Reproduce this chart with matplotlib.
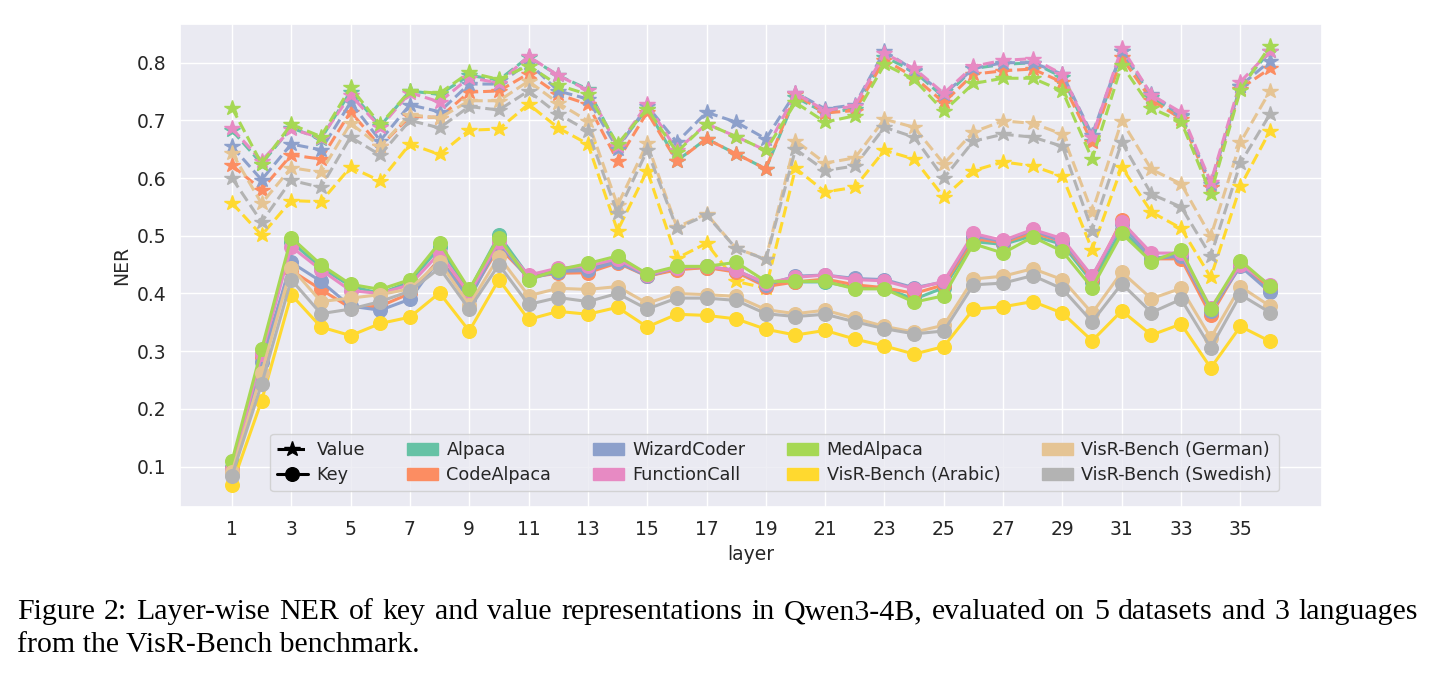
import numpy as np
import matplotlib
matplotlib.use("Agg")
import matplotlib.pyplot as plt
import seaborn as sns
from matplotlib.lines import Line2D
from matplotlib.patches import Patch

layers = list(range(1, 37))
datasets = ["Alpaca", "CodeAlpaca", "WizardCoder", "FunctionCall", "MedAlpaca",
            "VisR-Bench (Arabic)", "VisR-Bench (German)", "VisR-Bench (Swedish)"]
colors = ["#66c2a5", "#fc8d62", "#8da0cb", "#e78ac3", "#a6d854",
          "#ffd92f", "#e5c494", "#b3b3b3"]

alpaca_value = [0.683, 0.625, 0.687, 0.668, 0.750, 0.690, 0.751, 0.745, 0.778, 0.770, 0.810, 0.778,
                0.754, 0.655, 0.720, 0.630, 0.668, 0.642, 0.616, 0.740, 0.713, 0.720, 0.810, 0.785,
                0.740, 0.790, 0.797, 0.800, 0.775, 0.665, 0.820, 0.740, 0.708, 0.585, 0.760, 0.820]
codealpaca_value = [0.622, 0.580, 0.640, 0.633, 0.715, 0.655, 0.707, 0.705, 0.749, 0.751, 0.781, 0.745,
                    0.728, 0.630, 0.714, 0.629, 0.668, 0.642, 0.616, 0.745, 0.713, 0.717, 0.805, 0.775,
                    0.731, 0.780, 0.786, 0.789, 0.766, 0.662, 0.809, 0.735, 0.703, 0.585, 0.755, 0.790]
wizardcoder_value = [0.655, 0.597, 0.659, 0.649, 0.731, 0.665, 0.727, 0.715, 0.763, 0.763, 0.800, 0.751,
                     0.737, 0.651, 0.725, 0.662, 0.714, 0.697, 0.668, 0.748, 0.720, 0.727, 0.820, 0.787,
                     0.745, 0.790, 0.800, 0.800, 0.780, 0.675, 0.820, 0.745, 0.710, 0.590, 0.760, 0.803]
functioncall_value = [0.686, 0.630, 0.685, 0.670, 0.744, 0.688, 0.748, 0.732, 0.774, 0.765, 0.811, 0.778,
                      0.752, 0.655, 0.728, 0.648, 0.694, 0.672, 0.648, 0.747, 0.717, 0.725, 0.816, 0.790,
                      0.747, 0.794, 0.804, 0.807, 0.780, 0.671, 0.826, 0.744, 0.714, 0.593, 0.767, 0.820]
medalpaca_value = [0.722, 0.625, 0.693, 0.672, 0.757, 0.693, 0.751, 0.747, 0.783, 0.771, 0.795, 0.761,
                   0.745, 0.659, 0.720, 0.645, 0.694, 0.672, 0.648, 0.731, 0.697, 0.708, 0.797, 0.771,
                   0.716, 0.764, 0.773, 0.773, 0.751, 0.633, 0.796, 0.721, 0.698, 0.573, 0.753, 0.829]
arabic_value = [0.557, 0.501, 0.561, 0.559, 0.619, 0.595, 0.659, 0.641, 0.683, 0.685, 0.728, 0.687,
                0.659, 0.509, 0.613, 0.461, 0.487, 0.421, 0.409, 0.617, 0.576, 0.584, 0.648, 0.633,
                0.567, 0.613, 0.628, 0.621, 0.603, 0.476, 0.619, 0.541, 0.513, 0.428, 0.586, 0.682]
german_value = [0.644, 0.556, 0.618, 0.610, 0.695, 0.655, 0.710, 0.704, 0.734, 0.734, 0.768, 0.730,
                0.699, 0.553, 0.660, 0.515, 0.538, 0.478, 0.460, 0.665, 0.626, 0.635, 0.702, 0.688,
                0.625, 0.680, 0.699, 0.695, 0.676, 0.541, 0.699, 0.615, 0.590, 0.499, 0.662, 0.751]
swedish_value = [0.600, 0.524, 0.596, 0.584, 0.671, 0.640, 0.700, 0.687, 0.724, 0.718, 0.751, 0.711,
                 0.682, 0.539, 0.648, 0.513, 0.536, 0.478, 0.459, 0.650, 0.613, 0.621, 0.688, 0.671,
                 0.600, 0.664, 0.676, 0.671, 0.655, 0.509, 0.662, 0.572, 0.550, 0.465, 0.626, 0.711]

alpaca_key = [0.100, 0.295, 0.490, 0.445, 0.413, 0.400, 0.420, 0.480, 0.405, 0.501, 0.430, 0.440,
              0.445, 0.458, 0.430, 0.443, 0.445, 0.440, 0.418, 0.420, 0.420, 0.410, 0.410, 0.390,
              0.410, 0.490, 0.485, 0.500, 0.485, 0.420, 0.510, 0.460, 0.468, 0.370, 0.450, 0.410]
codealpaca_key = [0.095, 0.290, 0.440, 0.407, 0.375, 0.378, 0.400, 0.460, 0.395, 0.480, 0.428, 0.435,
                  0.436, 0.453, 0.430, 0.441, 0.445, 0.437, 0.412, 0.420, 0.425, 0.415, 0.410, 0.400,
                  0.415, 0.495, 0.488, 0.505, 0.490, 0.425, 0.527, 0.460, 0.460, 0.362, 0.450, 0.410]
wizardcoder_key = [0.090, 0.281, 0.454, 0.421, 0.378, 0.371, 0.390, 0.460, 0.390, 0.487, 0.425, 0.438,
                   0.440, 0.455, 0.430, 0.445, 0.447, 0.440, 0.415, 0.430, 0.432, 0.426, 0.424, 0.410,
                   0.420, 0.500, 0.490, 0.510, 0.490, 0.430, 0.520, 0.460, 0.465, 0.370, 0.447, 0.402]
functioncall_key = [0.095, 0.295, 0.481, 0.441, 0.405, 0.400, 0.415, 0.470, 0.400, 0.490, 0.432, 0.444,
                    0.447, 0.460, 0.432, 0.445, 0.447, 0.440, 0.418, 0.428, 0.432, 0.424, 0.422, 0.408,
                    0.421, 0.504, 0.492, 0.511, 0.495, 0.430, 0.524, 0.470, 0.470, 0.375, 0.450, 0.415]
medalpaca_key = [0.109, 0.303, 0.497, 0.450, 0.416, 0.407, 0.424, 0.488, 0.407, 0.497, 0.424, 0.441,
                 0.452, 0.465, 0.434, 0.447, 0.447, 0.454, 0.421, 0.421, 0.421, 0.408, 0.408, 0.385,
                 0.396, 0.486, 0.470, 0.498, 0.473, 0.410, 0.504, 0.455, 0.475, 0.373, 0.457, 0.413]
arabic_key = [0.068, 0.214, 0.398, 0.342, 0.327, 0.348, 0.359, 0.401, 0.335, 0.424, 0.355, 0.369,
              0.364, 0.376, 0.342, 0.364, 0.362, 0.356, 0.338, 0.328, 0.336, 0.321, 0.309, 0.295,
              0.308, 0.373, 0.377, 0.386, 0.366, 0.318, 0.370, 0.328, 0.347, 0.271, 0.343, 0.317]
german_key = [0.090, 0.262, 0.445, 0.386, 0.392, 0.398, 0.408, 0.455, 0.380, 0.464, 0.396, 0.409,
              0.407, 0.412, 0.383, 0.400, 0.398, 0.395, 0.372, 0.365, 0.371, 0.357, 0.343, 0.333,
              0.345, 0.425, 0.430, 0.443, 0.424, 0.366, 0.437, 0.391, 0.409, 0.323, 0.412, 0.378]
swedish_key = [0.084, 0.243, 0.424, 0.365, 0.373, 0.386, 0.404, 0.444, 0.373, 0.450, 0.381, 0.393,
               0.386, 0.400, 0.373, 0.392, 0.392, 0.388, 0.365, 0.360, 0.364, 0.351, 0.339, 0.330,
               0.335, 0.415, 0.418, 0.431, 0.408, 0.351, 0.417, 0.367, 0.390, 0.306, 0.398, 0.367]

value_series = [alpaca_value, codealpaca_value, wizardcoder_value, functioncall_value,
                medalpaca_value, arabic_value, german_value, swedish_value]
key_series = [alpaca_key, codealpaca_key, wizardcoder_key, functioncall_key,
              medalpaca_key, arabic_key, german_key, swedish_key]

xtick_labels = list(range(1, 37, 2))
ytick_values = [0.1, 0.2, 0.3, 0.4, 0.5, 0.6, 0.7, 0.8]

caption_line1 = "Figure 2: Layer-wise NER of key and value representations in Qwen3-4B, evaluated on 5 datasets and 3 languages"
caption_line2 = "from the VisR-Bench benchmark."

sns.set_theme(style="darkgrid")
plt.rcParams['font.family'] = ['DejaVu Sans']

W, H = 1435, 679
fig = plt.figure(figsize=(W / 100, H / 100), dpi=100)
ax = fig.add_axes([180 / W, 1 - 507 / H, (1322 - 180) / W, (507 - 24) / H])

for vals, col in zip(value_series, colors):
    ax.plot(layers, vals, linestyle="--", marker="*", color=col, lw=2.2, markersize=11.5)
for vals, col in zip(key_series, colors):
    ax.plot(layers, vals, linestyle="-", marker="o", color=col, lw=2.2, markersize=9.8)

ax.set_xticks(xtick_labels)
ax.set_xticklabels([str(v) for v in xtick_labels])
ax.set_yticks(ytick_values)
ax.tick_params(axis="both", labelsize=13.5, colors="#262626")
ax.set_xlabel("layer", fontsize=13.5)
ax.set_ylabel("NER", fontsize=13.5)

handles = [Line2D([0], [0], color="black", ls="--", marker="*", lw=2.2, markersize=11.5),
           Line2D([0], [0], color="black", ls="-", marker="o", lw=2.2, markersize=9.8)]
handles += [Patch(facecolor=c, edgecolor=c) for c in colors]
labels = ["Value", "Key"] + datasets
leg = ax.legend(handles, labels, ncol=5, loc="lower left", bbox_to_anchor=(0.0788, 0.033),
                borderaxespad=0.0, fontsize=12.7, frameon=True, columnspacing=2.35,
                handlelength=1.75, handletextpad=0.5, borderpad=0.4, labelspacing=0.4)

# Caption (justified first line)
cap_font = ['Liberation Serif', 'DejaVu Serif']
cap_size = 21.5
x_left, x_right = 17, 1418
y1 = 1 - 612 / H
y2 = 1 - 645 / H
renderer = fig.canvas.get_renderer()
words = caption_line1.split(" ")
word_texts = []
widths = []
for w in words:
    t = fig.text(0, y1, w, ha="left", va="center", fontsize=cap_size, family=cap_font, color="black")
    bb = t.get_window_extent(renderer=renderer)
    word_texts.append(t)
    widths.append(bb.width)
gap = (x_right - x_left - sum(widths)) / (len(words) - 1)
xpos = x_left
for t, wd in zip(word_texts, widths):
    t.set_x(xpos / W)
    xpos += wd + gap
fig.text(x_left / W, y2, caption_line2, ha="left", va="center", fontsize=cap_size,
         family=cap_font, color="black")

fig.savefig("out.png", dpi=100)
